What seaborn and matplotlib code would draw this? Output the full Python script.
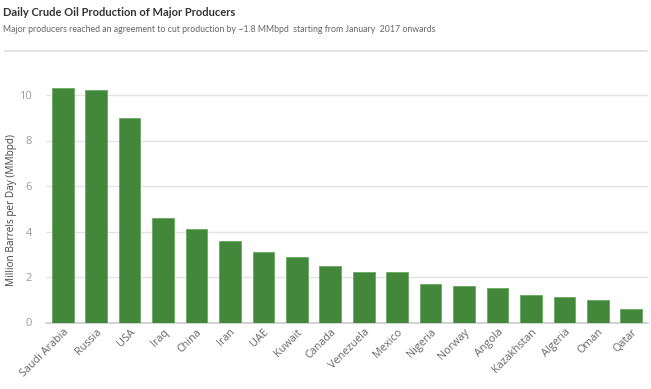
import matplotlib
matplotlib.use("Agg")
import matplotlib.pyplot as plt
import seaborn as sns
import pandas as pd
from matplotlib.lines import Line2D

countries = ["Saudi Arabia", "Russia", "USA", "Iraq", "China", "Iran", "UAE", "Kuwait",
             "Canada", "Venezuela", "Mexico", "Nigeria", "Norway", "Angola", "Kazakhstan",
             "Algeria", "Oman", "Qatar"]
production = [10.3, 10.2, 9.0, 4.6, 4.1, 3.6, 3.1, 2.9, 2.5, 2.2, 2.2, 1.7, 1.6, 1.5, 1.2, 1.1, 1.0, 0.6]
yticks = [0, 2, 4, 6, 8, 10]

df = pd.DataFrame({"country": countries, "value": production})

sns.set_theme(style="white")
plt.rcParams["font.family"] = ["Open Sans", "DejaVu Sans"]

fig = plt.figure(figsize=(6.51, 3.89), dpi=100)
ax = fig.add_axes([46/651, 1-322.5/389, (648-46)/651, (322.5-72.25)/389])

sns.barplot(data=df, x="country", y="value", color="#43873A", saturation=1,
            width=0.65, edgecolor="#6aa862", linewidth=0.6, ax=ax, zorder=3)

ax.set_xlim(-0.5, 17.5)
ax.set_ylim(0, 11)
ax.set_yticks(yticks)
ax.set_yticklabels([str(v) for v in yticks], color="#9a9a9a", fontsize=8)
ax.yaxis.grid(True, color="#e3e3e3", linewidth=1, zorder=0)
ax.set_axisbelow(True)
for s in ["top", "right", "left"]:
    ax.spines[s].set_visible(False)
ax.spines["bottom"].set_color("#cccccc")
ax.spines["bottom"].set_linewidth(1.2)
ax.tick_params(axis="y", length=0, pad=10)
ax.tick_params(axis="x", length=0, pad=3)
plt.setp(ax.get_xticklabels(), rotation=45, ha="right", rotation_mode="anchor",
         color="#666666", fontsize=7.8)
ax.set_xlabel("")
ax.set_ylabel("")
fig.text(12/651, 1-210/389, "Million Barrels per Day (MMbpd)", rotation=90, color="#444444",
         fontsize=7.2, va="center", ha="center")

fig.text(3/651, 1-13/389, "Daily Crude Oil Production of Major Producers", fontsize=8.0,
         fontweight="bold", color="#333333", va="center", ha="left", family=["Lato", "DejaVu Sans"])
fig.text(3/651, 1-29/389, "Major producers reached an agreement to cut production by ~1.8 MMbpd  starting from January  2017 onwards",
         fontsize=6.3, color="#666666", va="center", ha="left", family=["Lato", "DejaVu Sans"])
fig.add_artist(Line2D([5/651, 647/651], [1-50.5/389, 1-50.5/389], color="#dddddd", linewidth=1.2,
                      transform=fig.transFigure))

fig.savefig("out.png", dpi=100)
